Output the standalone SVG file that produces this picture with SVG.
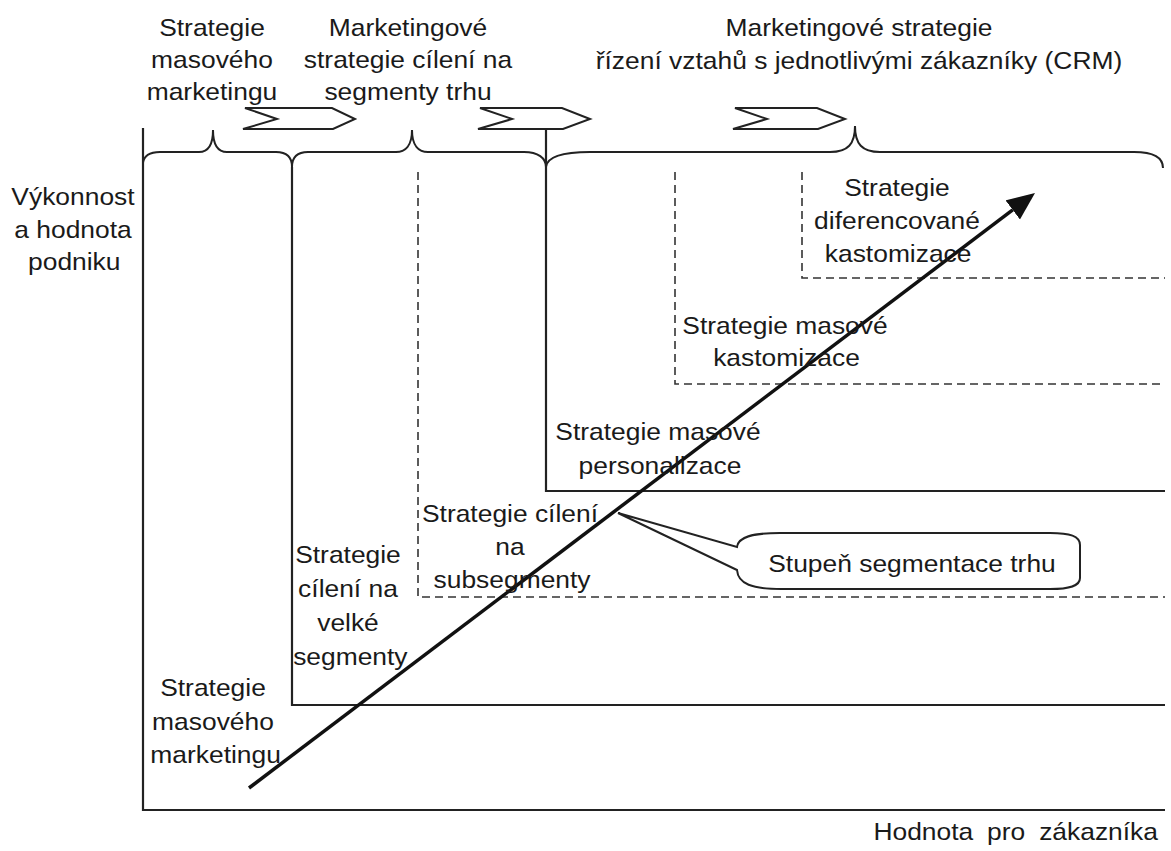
<svg xmlns="http://www.w3.org/2000/svg" width="1171" height="851" viewBox="0 0 1171 851">
<style>
.t{font-family:"Liberation Sans",Arial,sans-serif;font-size:24px;fill:#1a1a1a;text-anchor:middle}
.s{fill:none;stroke:#222;stroke-width:2.2}
.d{fill:none;stroke:#333;stroke-width:1.6;stroke-dasharray:8 5}
.b{fill:none;stroke:#222;stroke-width:2}
.c{fill:#fff;stroke:#222;stroke-width:2}
</style>
<defs>
<marker id="ah" markerUnits="userSpaceOnUse" markerWidth="30" markerHeight="26" refX="0" refY="12" orient="auto">
<path d="M0,0 L28,12 L0,24 z" fill="#111"/>
</marker>
</defs>
<rect width="1171" height="851" fill="#fff"/>

<g id="axes">
<path class="s" d="M143,128 L143,810 L1165,810"/>
</g>

<g id="braces">
<path class="b" d="M143,163 C144,155 150,152 160,152 L199,152 C208,152 213,146 213,130 C213,146 218,152 227,152 L276,152 C286,152 292,157 292,167"/>
<path class="b" d="M292,167 C292,157 298,152 308,152 L396,152 C405,152 412,146 412,130 C412,146 419,152 428,152 L524,152 C538,152 546,158 546,167"/>
<path class="b" d="M546,167 C547,158 560,152 590,152 L830,152 C848,152 855,144 855,126 C855,144 862,152 880,152 L1134,152 C1154,152 1163,158 1163,168"/>
</g>

<g id="chevrons">
<path class="c" d="M245,108 L332,108 L355,119 L333,129 L243,129 L277,119 Z"/>
<path class="c" d="M480,108 L562,108 L590,119 L563,129 L478,129 L512,119 Z"/>
<path class="c" d="M735,108 L817,108 L845,119 L818,129 L733,129 L767,119 Z"/>
</g>

<g id="connectors">
<path class="s" d="M292,167 L292,705 L1165,705"/>
<path class="s" d="M546,129 L546,491 L1165,491"/>
<path class="d" d="M418,172 L418,597 L1165,597"/>
<path class="d" d="M675,172 L675,384 L1165,384"/>
<path class="d" d="M802,172 L802,278 L1165,278"/>
<line x1="249" y1="788" x2="1012.7" y2="209.9" stroke="#111" stroke-width="3.5" marker-end="url(#ah)"/>
</g>

<g id="callout">
<path class="c" d="M618,513 L737,547 C738,537 752,533 780,533 L1050,533 C1070,533 1080,536 1080,545 L1080,578 C1080,586 1070,589 1050,589 L782,589 C752,589 738,584 737,570 Z"/>
</g>

<g transform="scale(1.1,1)">
<g id="top-mass">
<text class="t" x="192.73" y="36">Strategie</text>
<text class="t" x="192.73" y="68">masového</text>
<text class="t" x="192.73" y="100">marketingu</text>
</g>
<g id="top-segment">
<text class="t" x="370.91" y="36">Marketingové</text>
<text class="t" x="370.91" y="68">strategie cílení na</text>
<text class="t" x="370.91" y="100">segmenty trhu</text>
</g>
<g id="top-crm">
<text class="t" x="780.91" y="36">Marketingové strategie</text>
<text class="t" x="780.91" y="69">řízení vztahů s jednotlivými zákazníky (CRM)</text>
</g>
<g id="y-label">
<text class="t" x="66.36" y="205">Výkonnost</text>
<text class="t" x="66.36" y="238">a hodnota</text>
<text class="t" x="67.5" y="270">podniku</text>
</g>
<g id="n-diff">
<text class="t" x="815.45" y="196">Strategie</text>
<text class="t" x="815.45" y="229">diferencované</text>
<text class="t" x="816.5" y="262">kastomizace</text>
</g>
<g id="n-masscust">
<text class="t" x="713.64" y="334">Strategie masové</text>
<text class="t" x="715" y="366">kastomizace</text>
</g>
<g id="n-pers">
<text class="t" x="598.18" y="440">Strategie masové</text>
<text class="t" x="600" y="474">personalizace</text>
</g>
<g id="n-subseg">
<text class="t" x="463.64" y="522">Strategie cílení</text>
<text class="t" x="463.64" y="555">na</text>
<text class="t" x="465.5" y="588">subsegmenty</text>
</g>
<g id="n-bigseg">
<text class="t" x="316.36" y="563">Strategie</text>
<text class="t" x="316.36" y="597">cílení na</text>
<text class="t" x="316.36" y="631">velké</text>
<text class="t" x="318.5" y="665">segmenty</text>
</g>
<g id="n-mass">
<text class="t" x="193.64" y="696">Strategie</text>
<text class="t" x="193.64" y="730">masového</text>
<text class="t" x="196" y="763">marketingu</text>
</g>
<g id="callout-text">
<text class="t" x="829.09" y="572">Stupeň segmentace trhu</text>
</g>
<g id="x-label">
<text class="t" x="1052.73" y="840" style="text-anchor:end;word-spacing:6px">Hodnota pro zákazníka</text>
</g>
</g>
</svg>
